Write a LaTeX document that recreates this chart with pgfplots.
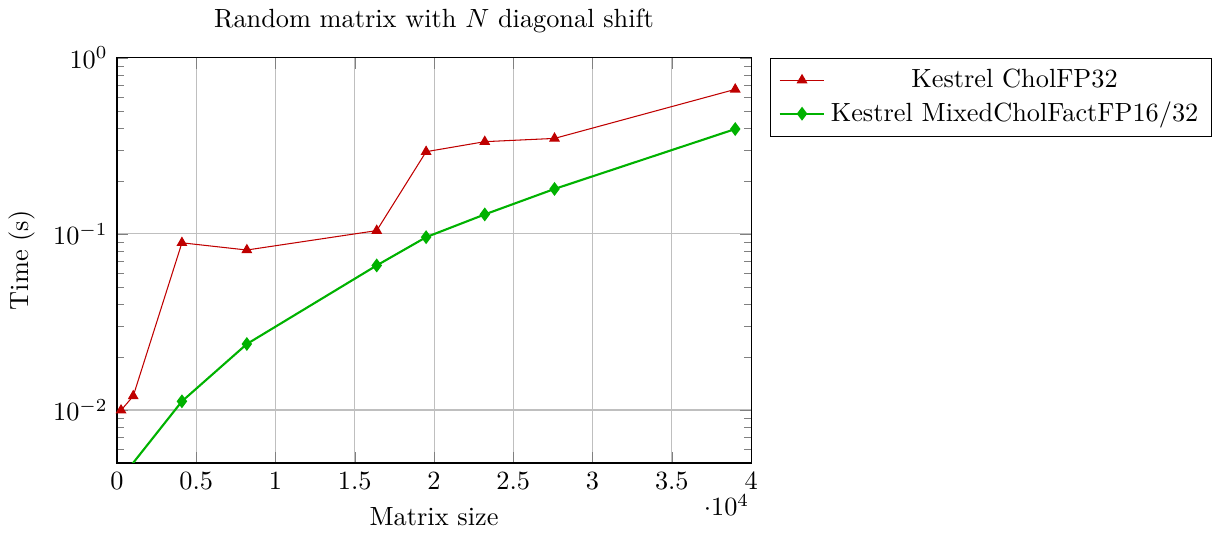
\documentclass[border=0pt]{standalone}
\usepackage{pgfplots}
\pgfplotsset{compat=1.18}
\begin{document}
\begin{tikzpicture}
\begin{axis}[
  scale only axis,
  width=241pt, height=154pt,
  ymode=log,
  xmin=0, xmax=40000,
  ymin=0.005, ymax=1,
  title={Random matrix with $N$ diagonal shift},
  xlabel={Matrix size},
  ylabel={Time (s)},
  grid=major,
  legend pos=outer north east,
  every x tick scale label/.style={at={(rel axis cs:1,0)}, anchor=north east, yshift=-11.8pt, xshift=-0.5pt, inner sep=0pt},
]
\addplot[color=red!75!black, mark=triangle*] coordinates {
  (256,0.00996) (1024,0.012) (4096,0.089) (8192,0.081) (16384,0.1044)
  (19500,0.293) (23200,0.334) (27600,0.3486) (39000,0.662)
};
\addlegendentry{Kestrel CholFP32}
\addplot[color=green!70!black, mark=diamond*, thick] coordinates {
  (256,0.0041) (4096,0.0112) (8192,0.0237) (16384,0.0662)
  (19500,0.0958) (23200,0.129) (27600,0.180) (39000,0.394)
};
\addlegendentry{Kestrel MixedCholFactFP16/32}
\end{axis}
\end{tikzpicture}
\end{document}
